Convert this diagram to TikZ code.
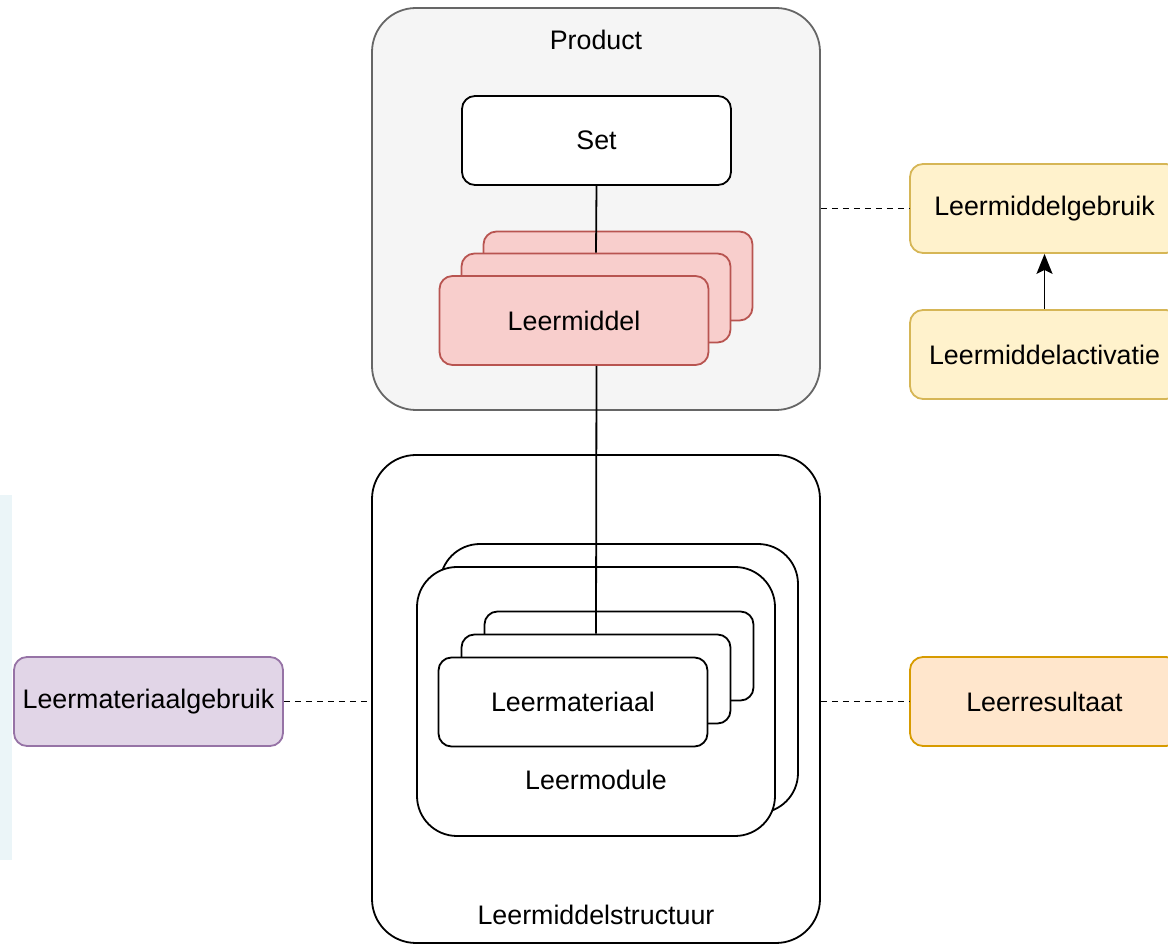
\documentclass[tikz,border=0pt]{standalone}
\usepackage{fontspec}
\setmainfont{Liberation Sans}
\usepackage{xcolor}
\usepackage{tikz}
\usetikzlibrary{arrows.meta}
\definecolor{prodfill}{HTML}{F5F5F5}
\definecolor{prodline}{HTML}{666666}
\definecolor{redfill}{HTML}{F8CECC}
\definecolor{redline}{HTML}{B85450}
\definecolor{purfill}{HTML}{E1D5E7}
\definecolor{purline}{HTML}{9673A6}
\definecolor{orfill}{HTML}{FFE6CC}
\definecolor{orline}{HTML}{D79B00}
\definecolor{yelfill}{HTML}{FFF2CC}
\definecolor{yelline}{HTML}{D6B656}
\definecolor{bandfill}{HTML}{EBF5F8}

\begin{document}
\begin{tikzpicture}[x=0.5pt, y=-0.5pt, line width=0.9pt,
	every node/.style={font=\fontsize{13.4}{16}\selectfont, inner sep=0pt},
	box/.style={rectangle, rounded corners=6.5pt, draw, fill=white, minimum width=134.5pt, minimum height=44.5pt},
	frame/.style={rectangle, rounded corners=22pt, draw, minimum width=224pt},
	modcard/.style={rectangle, rounded corners=20pt, draw, fill=white, minimum width=179pt, minimum height=134.5pt},
	dashline/.style={dash pattern=on 3pt off 2.5pt}]
	\useasboundingbox (0,0) rectangle (1168,945);
	\fill[bandfill] (0,495) rectangle (12,860);
	% Containers
	\node[frame, minimum height=201pt, fill=prodfill, draw=prodline] (prod) at (596,209) {};
	\node (prodlbl) at (596,40) {Product};
	\node[frame, minimum height=244pt, fill=white] (struct) at (596,699) {};
	\node (structlbl) at (596,915) {Leermiddelstructuur};
	% Set and Leermiddel stack
	\node[box] (set) at (596.5,140.5) {Set};
	\node[box, fill=redfill, draw=redline] (lm3) at (618,276) {};
	\node[box, fill=redfill, draw=redline] (lm2) at (596,298) {};
	\node[box, fill=redfill, draw=redline] (lm1) at (574,320.5) {Leermiddel};
	% Leermodule stack
	\node[modcard] (mod2) at (619,678.5) {};
	\node[modcard] (mod1) at (596,701.5) {};
	\node (modlbl) at (596,780) {Leermodule};
	% Leermateriaal stack
	\node[box] (mat3) at (619,656) {};
	\node[box] (mat2) at (596,679) {};
	\node[box] (mat1) at (573,702) {Leermateriaal};
	% Side boxes
	\node[box, fill=yelfill, draw=yelline] (gebruik) at (1044.5,208.5) {Leermiddelgebruik};
	\node[box, fill=yelfill, draw=yelline] (activ) at (1044.5,354.5) {Leermiddelactivatie};
	\node[box, fill=purfill, draw=purline] (matgebr) at (148.5,701.5) {Leermateriaalgebruik};
	\node[box, fill=orfill, draw=orline] (result) at (1044.5,701.5) {Leerresultaat};
	% Edges
	\draw (set.south) -- (lm2.north);
	\draw (lm1.south -| set.south) -- (mat2.north);
	\draw[-{Stealth[length=10pt, width=8pt, inset=2pt]}] (activ.north) -- (gebruik.south);
	\draw[dashline] (prod.east |- gebruik.west) -- (gebruik.west);
	\draw[dashline] (matgebr.east) -- (struct.west |- matgebr.east);
	\draw[dashline] (struct.east |- result.west) -- (result.west);
\end{tikzpicture}
\end{document}
